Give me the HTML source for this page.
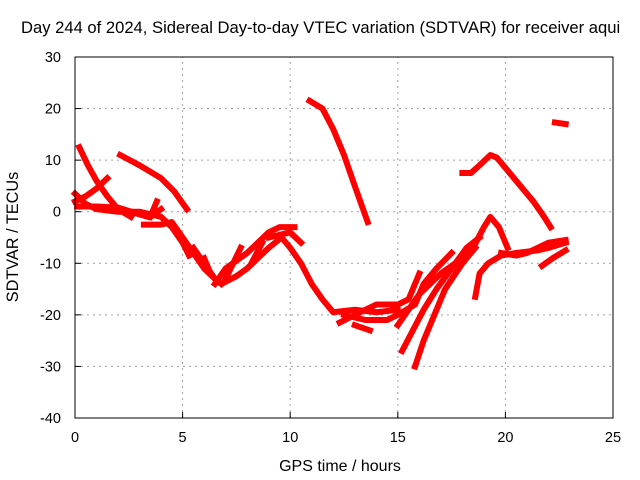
<!DOCTYPE html>
<html><head><meta charset="utf-8"><style>
body{margin:0;background:#fff}
svg{display:block;font-family:"Liberation Sans",sans-serif}
</style></head><body>
<svg id="chart" width="640" height="480" xmlns="http://www.w3.org/2000/svg">
<text x="21" y="33" font-size="16.6">Day 244 of 2024, Sidereal Day-to-day VTEC variation (SDTVAR) for receiver aqui</text>
<g id="grid"></g>
<g id="ticks"></g>
<g id="series"></g>
<rect x="75" y="57" width="538" height="361" fill="none" stroke="#000" stroke-width="1"/>
<text x="340" y="471" font-size="16" text-anchor="middle">GPS time / hours</text>
<text transform="translate(18,237) rotate(-90)" font-size="16.3" text-anchor="middle">SDTVAR / TECUs</text>
</svg>
<script>
const xTicks=[0,5,10,15,20,25];
const yTicks=[30,20,10,0,-10,-20,-30,-40];
const tA=[[0.2,12.5],[0.6,9],[1.0,6],[1.5,3],[2.0,0.5],[2.6,-1]];
const tB=[[0,2],[0.5,3],[1.0,4.5],[1.5,6.5]];
const tC=[[0,3.5],[0.5,1.5],[1,0.5],[2,0],[3,0],[4,-1],[4.5,-3],[5,-6],[5.3,-8.5]];
const tD=[[0.1,1],[1,1],[2,0.8],[3,-0.5],[3.5,-1],[4,0.5]];
const tE=[[2.1,11],[3,9],[4,6.5],[4.6,4],[5.2,0.5]];
const tF=[[3.2,-2.5],[4,-2.5],[4.5,-2],[5,-5],[5.5,-8],[6,-11],[6.5,-13],[6.8,-14]];
const tG=[[5.5,-7],[6,-10],[6.5,-13],[6.8,-14],[7.5,-12.5],[8,-11],[9,-7],[9.6,-5],[10,-7],[10.5,-10],[11,-14],[11.5,-17],[12,-19.5],[13,-19],[14,-19.5],[15,-19]];
const tH=[[6.5,-14],[7,-11],[8,-8],[9,-4],[9.5,-3],[10.2,-3]];
const tI=[[9,-5],[10,-4],[10.5,-6]];
const tS1=[[7,-13],[7.7,-7]];
const tS2=[[6.3,-12],[6.0,-9]];
const tS3=[[8.2,-10],[8.7,-6]];
const tS4=[[3.5,-1],[3.8,2]];
const tS5=[[2.6,0],[3.4,-1]];
const tJ=[[10.9,21.5],[11.5,20],[12,16],[12.5,11],[13,5],[13.6,-2]];
const tK=[[18,7.5],[18.4,7.5],[18.8,9],[19.3,11],[19.6,10.5],[20.5,6],[21.3,2],[21.8,-1],[22.1,-3]];
const tL=[[15,-22],[15.5,-19],[16,-16],[17,-12],[18,-9],[18.5,-7],[19,-3],[19.3,-1],[19.7,-3],[20.1,-7]];
const tM=[[15.2,-27],[15.7,-23],[16.2,-19],[16.8,-15],[17.5,-11],[18.2,-7],[18.8,-5]];
const tN=[[15.8,-30],[16.2,-25],[16.7,-20],[17.2,-15],[18,-10],[18.6,-7]];
const tO=[[12.5,-20],[13.5,-21],[14.5,-21],[15,-20],[15.8,-18],[16.2,-14],[16.8,-11],[17.5,-8]];
const tP=[[12.3,-21.5],[13,-20],[14,-18],[15,-18],[15.5,-17],[16,-12]];
const tQ=[[18.6,-16.5],[18.8,-12],[19.2,-10],[19.8,-8.5],[20.5,-8],[21.5,-7.5],[22,-7],[22.8,-6]];
const tR=[[19.8,-8],[20.5,-8.5],[21,-8],[22,-6],[22.8,-5.5]];
const tT=[[21.7,-10.5],[22.2,-9],[22.8,-7.5]];
const tU=[[22.3,17.3],[22.8,17]];
const tV=[[13,-22],[13.7,-23]];
const tracks=[tA,tB,tC,tD,tE,tF,tG,tH,tI,tS1,tS2,tS3,tS4,tS5,tJ,tK,tL,tM,tN,tO,tP,tQ,tR,tT,tU,tV];
const NS="http://www.w3.org/2000/svg";
const X0=75,X1=613,Y0=418,Y1=57;
function xs(h){return X0+(h-0)/25*(X1-X0);}
function ys(v){return Y0-(v+40)/70*(Y0-Y1);}
const grid=document.getElementById('grid'),ticks=document.getElementById('ticks'),ser=document.getElementById('series');
function mk(t,a,p){const e=document.createElementNS(NS,t);for(const k in a)e.setAttribute(k,a[k]);p.appendChild(e);return e;}
xTicks.forEach(t=>{const x=xs(t);
 if(t>0&&t<25){const l=mk('line',{x1:x,x2:x,y1:Y0,y2:Y1,stroke:'#a0a0a0','stroke-dasharray':'2,4'},grid);
 
 }
 const tk=mk('line',{x1:x,x2:x,y1:Y0,y2:Y0-6,stroke:'#000'},ticks);
 
 
 const tx=mk('text',{x:x,y:Y0+24,'font-size':'14.5','text-anchor':'middle'},ticks);tx.textContent=t;
 
 
});
yTicks.forEach(t=>{const y=ys(t);
 if(t>-40&&t<30){const l=mk('line',{x1:X0,x2:X1,y1:y,y2:y,stroke:'#a0a0a0','stroke-dasharray':'2,4'},grid);
 
 }
 const tk=mk('line',{x1:X0,x2:X0+6,y1:y,y2:y,stroke:'#000'},ticks);
 
 
 const tx=mk('text',{x:61,y:y+5,'font-size':'14.5','text-anchor':'end'},ticks);tx.textContent=t;
 
 
});
tracks.forEach(tr=>{
 const p=mk('polyline',{points:tr.map(d=>xs(d[0])+','+ys(d[1])).join(' '),fill:'none',stroke:'#ff0000','stroke-width':'6','stroke-linejoin':'round','stroke-linecap':'square'},ser);
 
 
});
</script>
</body></html>
